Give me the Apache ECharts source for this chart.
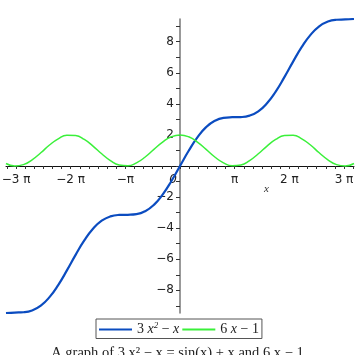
<!DOCTYPE html>
<html>
<head>
<meta charset="utf-8">
<script src="https://cdn.jsdelivr.net/npm/echarts@6/dist/echarts.min.js"></script>
<style>
  html, body { margin: 0; padding: 0; background: #fff; }
  #chart { width: 355px; height: 355px; }
</style>
</head>
<body>
<div id="chart"></div>
<script>
// sample points
const xValues = [-10, -9.5, -9, -8.5, -8, -7.5, -7, -6.5, -6, -5.5, -5, -4.5, -4, -3.5, -3, -2.5, -2, -1.5, -1, -0.5,
  0, 0.5, 1, 1.5, 2, 2.5, 3, 3.5, 4, 4.5, 5, 5.5, 6, 6.5, 7, 7.5, 8, 8.5, 9, 9.5, 10];
const blueValues = [-9.46, -9.43, -9.41, -9.30, -8.99, -8.44, -7.66, -6.72, -5.72, -4.79, -4.04, -3.52, -3.24, -3.15, -3.14, -3.10, -2.91, -2.50, -1.84, -0.98,
  0, 0.98, 1.84, 2.50, 2.91, 3.10, 3.14, 3.15, 3.24, 3.52, 4.04, 4.79, 5.72, 6.72, 7.66, 8.44, 8.99, 9.30, 9.41, 9.43, 9.46];
const greenValues = [0.16, 0.00, 0.09, 0.40, 0.85, 1.35, 1.75, 1.98, 1.96, 1.71, 1.28, 0.79, 0.35, 0.06, 0.01, 0.20, 0.58, 1.07, 1.54, 1.88,
  2, 1.88, 1.54, 1.07, 0.58, 0.20, 0.01, 0.06, 0.35, 0.79, 1.28, 1.71, 1.96, 1.98, 1.75, 1.35, 0.85, 0.40, 0.09, 0.00, 0.16];

const seriesNames = ['3x^2 - x', '6x - 1'];
const xPiMultiples = [-3, -2, -1, 0, 1, 2, 3];
const xTickLabels = ['−3 π', '−2 π', '−π', '0', 'π', '2 π', '3 π'];
const yLabelValues = [-8, -6, -4, -2, 2, 4, 6, 8];
const yTickValues = [-9, -8, -7, -6, -5, -4, -3, -2, -1, 0, 1, 2, 3, 4, 5, 6, 7, 8, 9];

const xLabelValues = xPiMultiples.map(k => k * Math.PI);
const xMinorTicks = [];
for (let k = -19; k <= 19; k++) xMinorTicks.push(k * Math.PI / 6);

const sans = 'DejaVu Sans';
const serif = 'Liberation Serif';
const X_MIN = -10, X_MAX = 10, Y_MIN = -9.46, Y_MAX = 9.46;

const chart = echarts.init(document.getElementById('chart'));
chart.setOption({
  animation: false,
  grid: { left: 6, right: 1, top: 19, bottom: 42, outerBoundsMode: 'none' },
  xAxis: [
    {
      type: 'value', min: X_MIN, max: X_MAX,
      axisLine: { onZero: true, lineStyle: { color: '#111', width: 1 } },
      axisTick: { customValues: xMinorTicks, length: 3, lineStyle: { color: '#333' } },
      axisLabel: { show: false },
      splitLine: { show: false }
    },
    {
      // label-only axis, moved up to the zero line
      type: 'value', min: X_MIN, max: X_MAX, position: 'bottom', offset: -147,
      axisLine: { show: false, onZero: false },
      axisTick: { show: false },
      axisLabel: {
        customValues: xLabelValues,
        margin: 8,
        fontFamily: sans,
        fontSize: 12,
        color: '#222',
        formatter: function (v) {
          const i = xLabelValues.findIndex(p => Math.abs(p - v) < 1e-6);
          if (i < 0) return '';
          if (xTickLabels[i] === '0') return '{z|0}';
          return xTickLabels[i];
        },
        rich: { z: { fontFamily: sans, fontStyle: 'italic', fontSize: 12, color: '#222', padding: [0, 14, 0, 0] } }
      },
      splitLine: { show: false }
    }
  ],
  yAxis: [
    {
      type: 'value', min: Y_MIN, max: Y_MAX,
      axisLine: { onZero: true, lineStyle: { color: '#777', width: 1.5 } },
      axisTick: { customValues: yTickValues, length: 4, lineStyle: { color: '#333' } },
      axisLabel: { show: false },
      splitLine: { show: false }
    },
    {
      type: 'value', min: Y_MIN, max: Y_MAX, position: 'left', offset: -174,
      axisLine: { show: false, onZero: false },
      axisTick: { show: false },
      axisLabel: {
        customValues: yLabelValues,
        margin: 6,
        fontFamily: sans,
        fontSize: 12,
        color: '#222',
        formatter: v => (v < 0 ? '−' + Math.abs(v) : String(v))
      },
      splitLine: { show: false }
    }
  ],
  legend: {
    left: 96,
    top: 319,
    icon: 'rect',
    itemWidth: 33,
    itemHeight: 2,
    itemGap: 3,
    padding: [2, 3, 2, 3],
    borderColor: '#555',
    borderWidth: 1,
    borderRadius: 0,
    textStyle: {
      fontFamily: serif,
      fontSize: 14,
      color: '#222',
      rich: {
        n: { fontFamily: serif, fontSize: 14, color: '#222' },
        i: { fontFamily: serif, fontStyle: 'italic', fontSize: 14, color: '#222' },
        s: { fontFamily: serif, fontStyle: 'italic', fontSize: 9, color: '#222', verticalAlign: 'top', padding: [0, 0, 8, 0] }
      }
    },
    formatter: function (name) {
      if (name === seriesNames[0]) return '{n|3 }{i|x}{s|2}{n| − }{i|x}';
      return '{n|6 }{i|x}{n| − 1}';
    },
    data: seriesNames
  },
  title: {
    text: 'A graph of 3 x² − x = sin(x) + x and 6 x − 1',
    left: 'center',
    top: 346,
    padding: 0,
    textStyle: { fontFamily: serif, fontSize: 14.5, fontWeight: 'normal', color: '#222' }
  },
  graphic: [
    { type: 'text', left: 264, top: 184, style: { text: 'x', font: 'italic 11px Liberation Serif', fill: '#333' } }
  ],
  series: [
    {
      name: seriesNames[0],
      type: 'line',
      data: xValues.map((x, i) => [x, blueValues[i]]),
      smooth: 0.5,
      showSymbol: false,
      lineStyle: { color: '#0b4cc0', width: 2.2 },
      itemStyle: { color: '#0b4cc0' }
    },
    {
      name: seriesNames[1],
      type: 'line',
      data: xValues.map((x, i) => [x, greenValues[i]]),
      smooth: 0.5,
      showSymbol: false,
      lineStyle: { color: '#3af03a', width: 1.5 },
      itemStyle: { color: '#3af03a' }
    }
  ]
});
</script>
</body>
</html>
